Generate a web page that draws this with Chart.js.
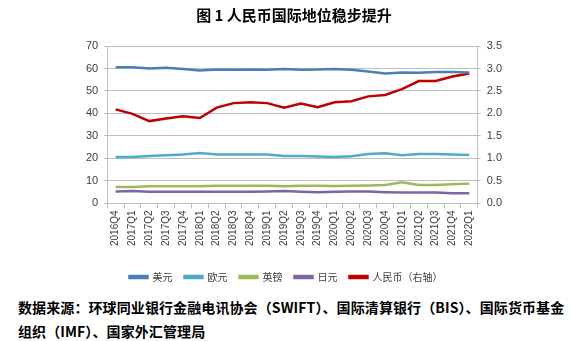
<!DOCTYPE html>
<html>
<head>
<meta charset="utf-8">
<script src="https://cdn.jsdelivr.net/npm/chart.js@4"></script>
<style>
  body { margin: 0; background: #fff; }
  #wrap { position: relative; width: 580px; height: 341px; }
  #chart { position: absolute; left: 0; top: 0; }
  #source {
    position: absolute; left: 18px; top: 295px; width: 560px;
    font-family: "Noto Sans CJK SC", sans-serif; font-weight: bold;
    font-size: 14px; line-height: 24px; letter-spacing: 0.1px; color: #000;
    white-space: nowrap;
  }
</style>
</head>
<body>
<div id="wrap">
  <canvas id="chart" width="580" height="292"></canvas>
  <div id="source">数据来源：环球同业银行金融电讯协会（SWIFT）、国际清算银行（BIS）、国际货币基金<br>组织（IMF）、国家外汇管理局</div>
</div>
<script>
const quarters = ['2016Q4', '2017Q1', '2017Q2', '2017Q3', '2017Q4', '2018Q1', '2018Q2', '2018Q3',
    '2018Q4', '2019Q1', '2019Q2', '2019Q3', '2019Q4', '2020Q1', '2020Q2', '2020Q3', '2020Q4',
    '2021Q1', '2021Q2', '2021Q3', '2021Q4', '2022Q1'];

// share of global payments (%), left axis
const usd = [60.6, 60.6, 60.0, 60.3, 59.8, 59.1, 59.5, 59.4, 59.5, 59.4, 59.8, 59.4,
    59.5, 59.8, 59.4, 58.7, 57.8, 58.2, 58.1, 58.4, 58.4, 58.2];
const eur = [20.6, 20.6, 21.1, 21.4, 21.7, 22.4, 21.7, 21.7, 21.7, 21.7, 21.1, 21.1,
    20.9, 20.6, 21.0, 22.0, 22.3, 21.4, 22.0, 22.0, 21.7, 21.5];
const gbp = [7.3, 7.3, 7.6, 7.6, 7.6, 7.6, 7.9, 7.9, 7.9, 7.9, 7.6, 7.8,
    7.9, 7.7, 7.9, 8.0, 8.2, 9.4, 8.2, 8.2, 8.5, 8.8];
const jpy = [5.3, 5.5, 5.2, 5.2, 5.2, 5.2, 5.2, 5.2, 5.2, 5.3, 5.5, 5.2,
    5.0, 5.2, 5.3, 5.3, 5.0, 4.8, 4.8, 4.8, 4.5, 4.5];
// renminbi, right axis
const cny = [2.09, 1.99, 1.83, 1.89, 1.94, 1.90, 2.13, 2.23, 2.25, 2.23, 2.13, 2.22,
    2.14, 2.25, 2.27, 2.38, 2.41, 2.54, 2.72, 2.72, 2.82, 2.89];

const tickFont = { family: 'Arial, "Liberation Sans", sans-serif', size: 11 };
const gridColor = '#bfbfbf';
const textColor = '#404040';

function line(label, data, color, axis) {
    return {
        label: label,
        data: data,
        borderColor: color,
        backgroundColor: color,
        borderWidth: 2.5,
        pointRadius: 0,
        tension: 0,
        yAxisID: axis
    };
}

// legend in the reference sits a bit left of centre
const shiftLegend = {
    id: 'shiftLegend',
    afterLayout(chart) {
        chart.legend.left -= 8;
        chart.legend.right -= 8;
    }
};

new Chart(document.getElementById('chart'), {
    type: 'line',
    data: {
        labels: quarters,
        datasets: [
            line('美元', usd, '#4a7ebb', 'y'),
            line('欧元', eur, '#4bacc6', 'y'),
            line('英镑', gbp, '#9bbb59', 'y'),
            line('日元', jpy, '#8064a2', 'y'),
            line('人民币（右轴）', cny, '#c00000', 'y1')
        ]
    },
    plugins: [shiftLegend],
    options: {
        responsive: false,
        animation: false,
        layout: { padding: { left: 80, right: 72, top: 0, bottom: 0 } },
        plugins: {
            title: {
                display: true,
                text: '图 1 人民币国际地位稳步提升',
                color: '#000',
                font: { family: '"Noto Sans CJK SC", sans-serif', size: 15, weight: 'bold' },
                padding: { top: 6, bottom: 22 }
            },
            legend: {
                position: 'bottom',
                labels: {
                    boxWidth: 18,
                    boxHeight: 2,
                    padding: 12,
                    color: textColor,
                    font: { family: '"Noto Sans CJK SC", sans-serif', size: 10 }
                }
            },
            tooltip: { enabled: false }
        },
        scales: {
            x: {
                offset: true,
                grid: { offset: true, drawOnChartArea: false, drawTicks: true, tickLength: 5, color: gridColor },
                border: { color: gridColor },
                ticks: { color: textColor, font: { family: tickFont.family, size: 10 },
                    maxRotation: 90, minRotation: 90, autoSkip: false, padding: 2 },
                // extra gap between the rotated labels and the legend
                afterFit(scale) { scale.height += 12; }
            },
            y: {
                position: 'left',
                min: 0, max: 70,
                ticks: { stepSize: 10, color: textColor, font: tickFont, padding: 6 },
                grid: { color: gridColor, tickLength: 3 },
                border: { color: gridColor }
            },
            y1: {
                position: 'right',
                min: 0, max: 3.5,
                ticks: { stepSize: 0.5, color: textColor, font: tickFont, padding: 6,
                    callback: v => v.toFixed(1) },
                grid: { drawOnChartArea: false, tickLength: 3, color: gridColor },
                border: { color: gridColor }
            }
        }
    }
});
</script>
</body>
</html>
